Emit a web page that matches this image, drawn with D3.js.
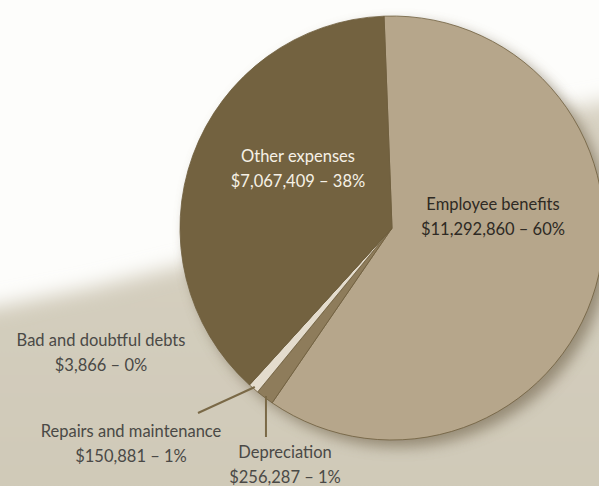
<!DOCTYPE html>
<html>
<head>
<meta charset="utf-8">
<script src="https://cdn.jsdelivr.net/npm/d3@7"></script>
<style>
  body { margin: 0; background: #fff; }
  text { font-family: Lato, "Open Sans", sans-serif; }
</style>
</head>
<body>
<div id="pie"></div>
<script>
var svgWidth = 599;
var svgHeight = 486;

// expense categories, clockwise from the top
var categories = ["Employee benefits", "Depreciation", "Repairs and maintenance", "Bad and doubtful debts", "Other expenses"];
var amounts = [11292860, 256287, 150881, 3866, 7067409];
var sliceColors = ["#b6a68b", "#8e7c5b", "#e4dccd", "#f4f0e8", "#736240"];

var cx = 392, cy = 228, radius = 212;

var svg = d3.select("#pie")
    .append("svg")
    .attr("width", svgWidth)
    .attr("height", svgHeight);

var defs = svg.append("defs");

defs.append("filter").attr("id", "soft")
    .attr("x", "-20%").attr("y", "-20%").attr("width", "140%").attr("height", "140%")
    .append("feGaussianBlur").attr("stdDeviation", 10);

defs.append("filter").attr("id", "shadow")
    .attr("x", "-20%").attr("y", "-20%").attr("width", "140%").attr("height", "140%")
    .append("feGaussianBlur").attr("stdDeviation", 7);

var bgGrad = defs.append("linearGradient").attr("id", "bgGrad")
    .attr("x1", 0).attr("y1", 0).attr("x2", 0).attr("y2", 1);
bgGrad.append("stop").attr("offset", "0%").attr("stop-color", "#d8d2c3");
bgGrad.append("stop").attr("offset", "100%").attr("stop-color", "#cec8b6");

// background: white top, beige floor
svg.append("rect")
    .attr("width", svgWidth)
    .attr("height", svgHeight)
    .attr("fill", "#fdfdfb");

svg.append("path")
    .attr("d", "M-40,312 L0,306 L90,288 L180,266 L260,248 L470,150 L560,110 L640,95 L640,540 L-40,540 Z")
    .attr("fill", "url(#bgGrad)")
    .attr("filter", "url(#soft)");

var total = d3.sum(amounts);
var data = categories.map(function(c, i) {
    return { name: c, value: amounts[i], color: sliceColors[i] };
});

var startAngle = -2.15 * Math.PI / 180;
var pie = d3.pie()
    .sort(null)
    .value(d => d.value)
    .startAngle(startAngle)
    .endAngle(startAngle + 2 * Math.PI);

var arcs = pie(data);
var arc = d3.arc().innerRadius(0).outerRadius(radius);
var edgeArc = d3.arc().innerRadius(radius - 2).outerRadius(radius - 2);

var chartGroup = svg.append("g")
    .attr("transform", `translate(${cx}, ${cy})`);

// drop shadow
chartGroup.append("circle")
    .attr("cx", 7)
    .attr("cy", 7)
    .attr("r", radius)
    .attr("fill", "#7d7058")
    .attr("opacity", 0.7)
    .attr("filter", "url(#shadow)");

chartGroup.selectAll("path.slice")
    .data(arcs)
    .enter()
    .append("path")
    .attr("class", "slice")
    .attr("d", arc)
    .attr("fill", d => d.data.color)
    .attr("stroke", "#6f5e3d")
    .attr("stroke-width", 0.8)
    .attr("stroke-linejoin", "round");

var fmt = d3.format("$,");
function pct(v) { return Math.round(v / total * 100) + "%"; }

// label layout (svg coordinates) and text colours
var labelLayout = {
    "Employee benefits":       { x: 493, y: 210, fill: "#2e2a24" },
    "Depreciation":            { x: 285, y: 458, fill: "#4a4946" },
    "Repairs and maintenance": { x: 131, y: 437, fill: "#4a4946" },
    "Bad and doubtful debts":  { x: 101, y: 346, fill: "#4a4946" },
    "Other expenses":          { x: 298, y: 162, fill: "#f6f1e6" }
};

// leader lines for the thin slices
var leaderEnds = {
    "Repairs and maintenance": function(p) { return [198, 413]; },
    "Depreciation": function(p) { return [p[0], 437]; }
};

arcs.forEach(function(d) {
    var end = leaderEnds[d.data.name];
    if (!end) return;
    var p = edgeArc.centroid(d);
    var p0 = [p[0] + cx, p[1] + cy];
    var p1 = end(p0);
    svg.append("line")
        .attr("x1", p0[0]).attr("y1", p0[1])
        .attr("x2", p1[0]).attr("y2", p1[1])
        .attr("stroke", "#7a6947")
        .attr("stroke-width", 2);
});

var labels = svg.selectAll("text.label")
    .data(data)
    .enter()
    .append("text")
    .attr("class", "label")
    .attr("text-anchor", "middle")
    .attr("font-size", "16.5px")
    .attr("fill", d => labelLayout[d.name].fill)
    .attr("x", d => labelLayout[d.name].x)
    .attr("y", d => labelLayout[d.name].y);

labels.append("tspan")
    .attr("x", d => labelLayout[d.name].x)
    .text(d => d.name);

labels.append("tspan")
    .attr("x", d => labelLayout[d.name].x)
    .attr("dy", 25)
    .text(d => fmt(d.value) + " \u2013 " + pct(d.value));
</script>
</body>
</html>
